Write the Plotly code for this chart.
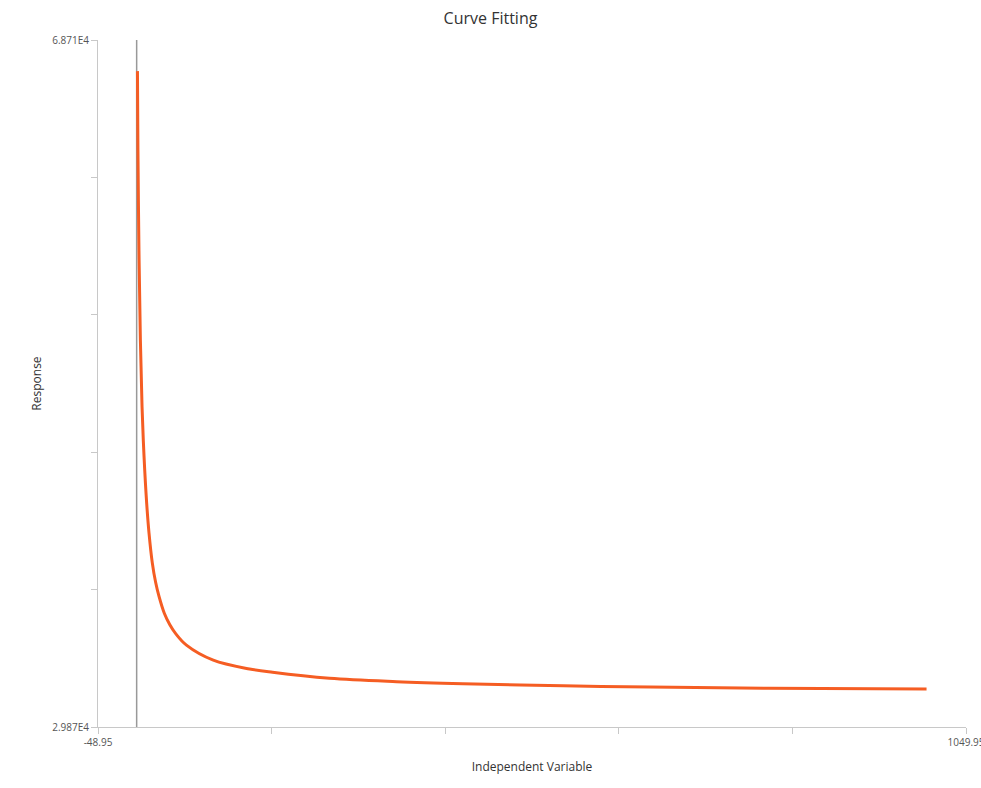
import plotly.graph_objects as go

# ─── Data ───────────────────────────────────────────────────
independent = [1, 1.6, 2.9, 4.7, 6.8, 9.3, 12.7, 15.6, 19.8, 24, 28.3, 35,
               42, 49.4, 63, 97, 143, 172, 244, 329, 413, 540, 650, 800, 1000]
response = [66950, 62500, 56800, 51750, 47980, 45200, 42500, 40850, 39150,
            38050, 37250, 36300, 35650, 35150, 34500, 33650, 33150, 32960,
            32620, 32430, 32315, 32200, 32130, 32060, 32015]

X_MIN, X_MAX = -48.95, 1049.95
Y_MIN, Y_MAX = 29870, 68710

x_ticks = [X_MIN + i * (X_MAX - X_MIN) / 5 for i in range(6)]
x_text = ["-48.95", "", "", "", "", "1049.95"]
y_ticks = [Y_MIN + i * (Y_MAX - Y_MIN) / 5 for i in range(6)]
y_text = ["2.987E4", "", "", "", "", "6.871E4"]

LINE_CLR = "#f55d23"
AXIS_CLR = "#c8c8c8"
TEXT_CLR = "#555555"
FONT = "Open Sans"

fig = go.Figure()

# vertical reference line at x = 0
fig.add_trace(go.Scatter(
    x=[0, 0], y=[Y_MIN, Y_MAX], mode="lines",
    line=dict(color="#999999", width=1.5),
    hoverinfo="skip", showlegend=False,
))

fig.add_trace(go.Scatter(
    x=independent, y=response, mode="lines",
    line=dict(color=LINE_CLR, width=3, shape="spline", smoothing=1.0),
    showlegend=False,
))

fig.update_layout(
    width=981, height=788,
    paper_bgcolor="white", plot_bgcolor="white",
    margin=dict(l=98, r=15, t=40, b=61),
    font=dict(family=FONT, color=TEXT_CLR),
    title=dict(text="Curve Fitting", x=0.5, xanchor="center",
               y=0.977, yanchor="middle",
               font=dict(size=16, color="#333333", family=FONT)),
    xaxis=dict(
        range=[X_MIN, X_MAX], tickvals=x_ticks, ticktext=x_text,
        showgrid=False, zeroline=False, showline=True,
        linecolor=AXIS_CLR, linewidth=1,
        ticks="outside", ticklen=6, tickcolor=AXIS_CLR,
        tickfont=dict(size=10, color=TEXT_CLR),
        ticklabeloverflow="allow", automargin=False,
        title=dict(text="Independent Variable", standoff=14,
                   font=dict(size=12, color="#333333")),
    ),
    yaxis=dict(
        range=[Y_MIN, Y_MAX], tickvals=y_ticks, ticktext=y_text,
        showgrid=False, zeroline=False, showline=True,
        linecolor=AXIS_CLR, linewidth=1,
        ticks="outside", ticklen=6, tickcolor=AXIS_CLR,
        tickfont=dict(size=10, color=TEXT_CLR),
        automargin=False,
        title=dict(text="Response", standoff=8,
                   font=dict(size=12, color="#333333")),
    ),
)

# drop the default 8px page margin so the figure sits at the window corner
fig.write_html("out.html", config={"displayModeBar": False},
               post_script="document.body.style.margin='0';")
